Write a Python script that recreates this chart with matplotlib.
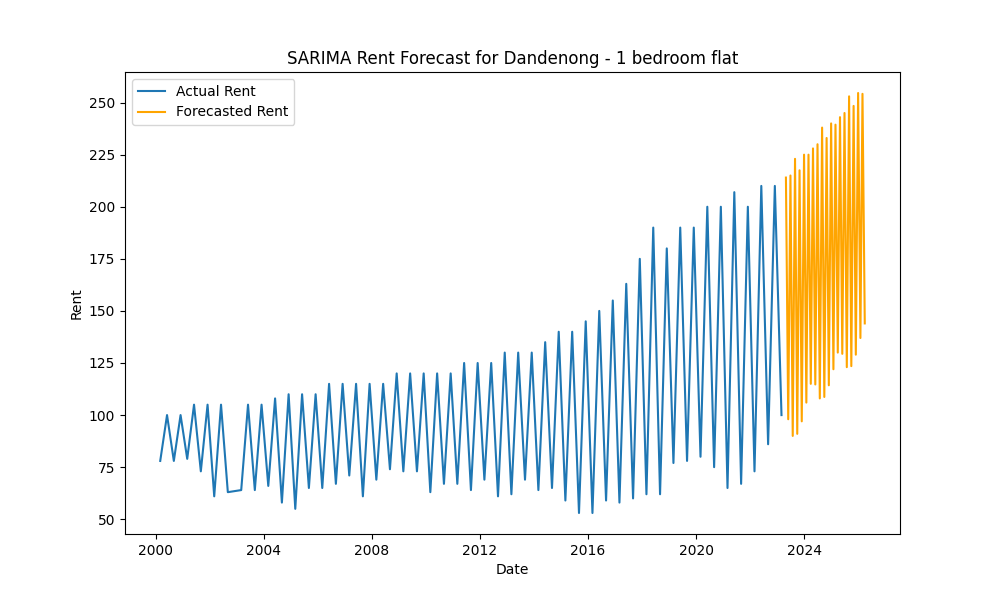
import matplotlib
matplotlib.use("Agg")
import matplotlib.pyplot as plt
import pandas as pd

# Actual quarterly rent (Dec 2002 missing)
actual_dates = pd.date_range("2000-03-01", "2023-03-01", freq="QS-MAR")
actual_dates = actual_dates[actual_dates != pd.Timestamp("2002-12-01")]
actual_rent = [
    78, 100, 78, 100, 79, 105, 73, 105, 61, 105, 63,
    64, 105, 64, 105, 66, 108, 58, 110, 55, 110, 65, 110, 65, 115, 67, 115, 71, 115, 61, 115, 69, 115,
    74, 120, 73, 120, 73, 120, 63, 120, 67, 120, 67, 125, 64, 125, 69, 125, 61, 130, 62, 130, 69, 130,
    64, 135, 65, 140, 59, 140, 53, 145, 53, 150, 59, 155, 58, 163,
    60, 175, 62, 190, 62, 180, 77, 190, 78, 190, 80, 200, 75, 200, 65, 207, 67, 200, 73, 210, 86, 210, 100,
]

# Forecast monthly rent
forecast_dates = pd.date_range("2023-04-30", periods=36, freq="ME")
forecast_rent = [
    214, 98, 215, 90, 223, 91, 217.5, 97, 225, 106, 225, 115,
    228, 114.7, 230, 108, 238, 108.7, 233, 114.3, 240, 122, 239.4, 130,
    243, 129.4, 245, 123, 253, 123.5, 248.4, 129, 254.6, 137, 254.2, 144,
]

fig, ax = plt.subplots(figsize=(10, 6), dpi=100)
ax.plot(actual_dates, actual_rent, label="Actual Rent", color="#1f77b4")
ax.plot(forecast_dates, forecast_rent, label="Forecasted Rent", color="orange")
ax.set_title("SARIMA Rent Forecast for Dandenong - 1 bedroom flat")
ax.set_xlabel("Date")
ax.set_ylabel("Rent")
ax.legend(loc="upper left")
fig.savefig("out.png")
